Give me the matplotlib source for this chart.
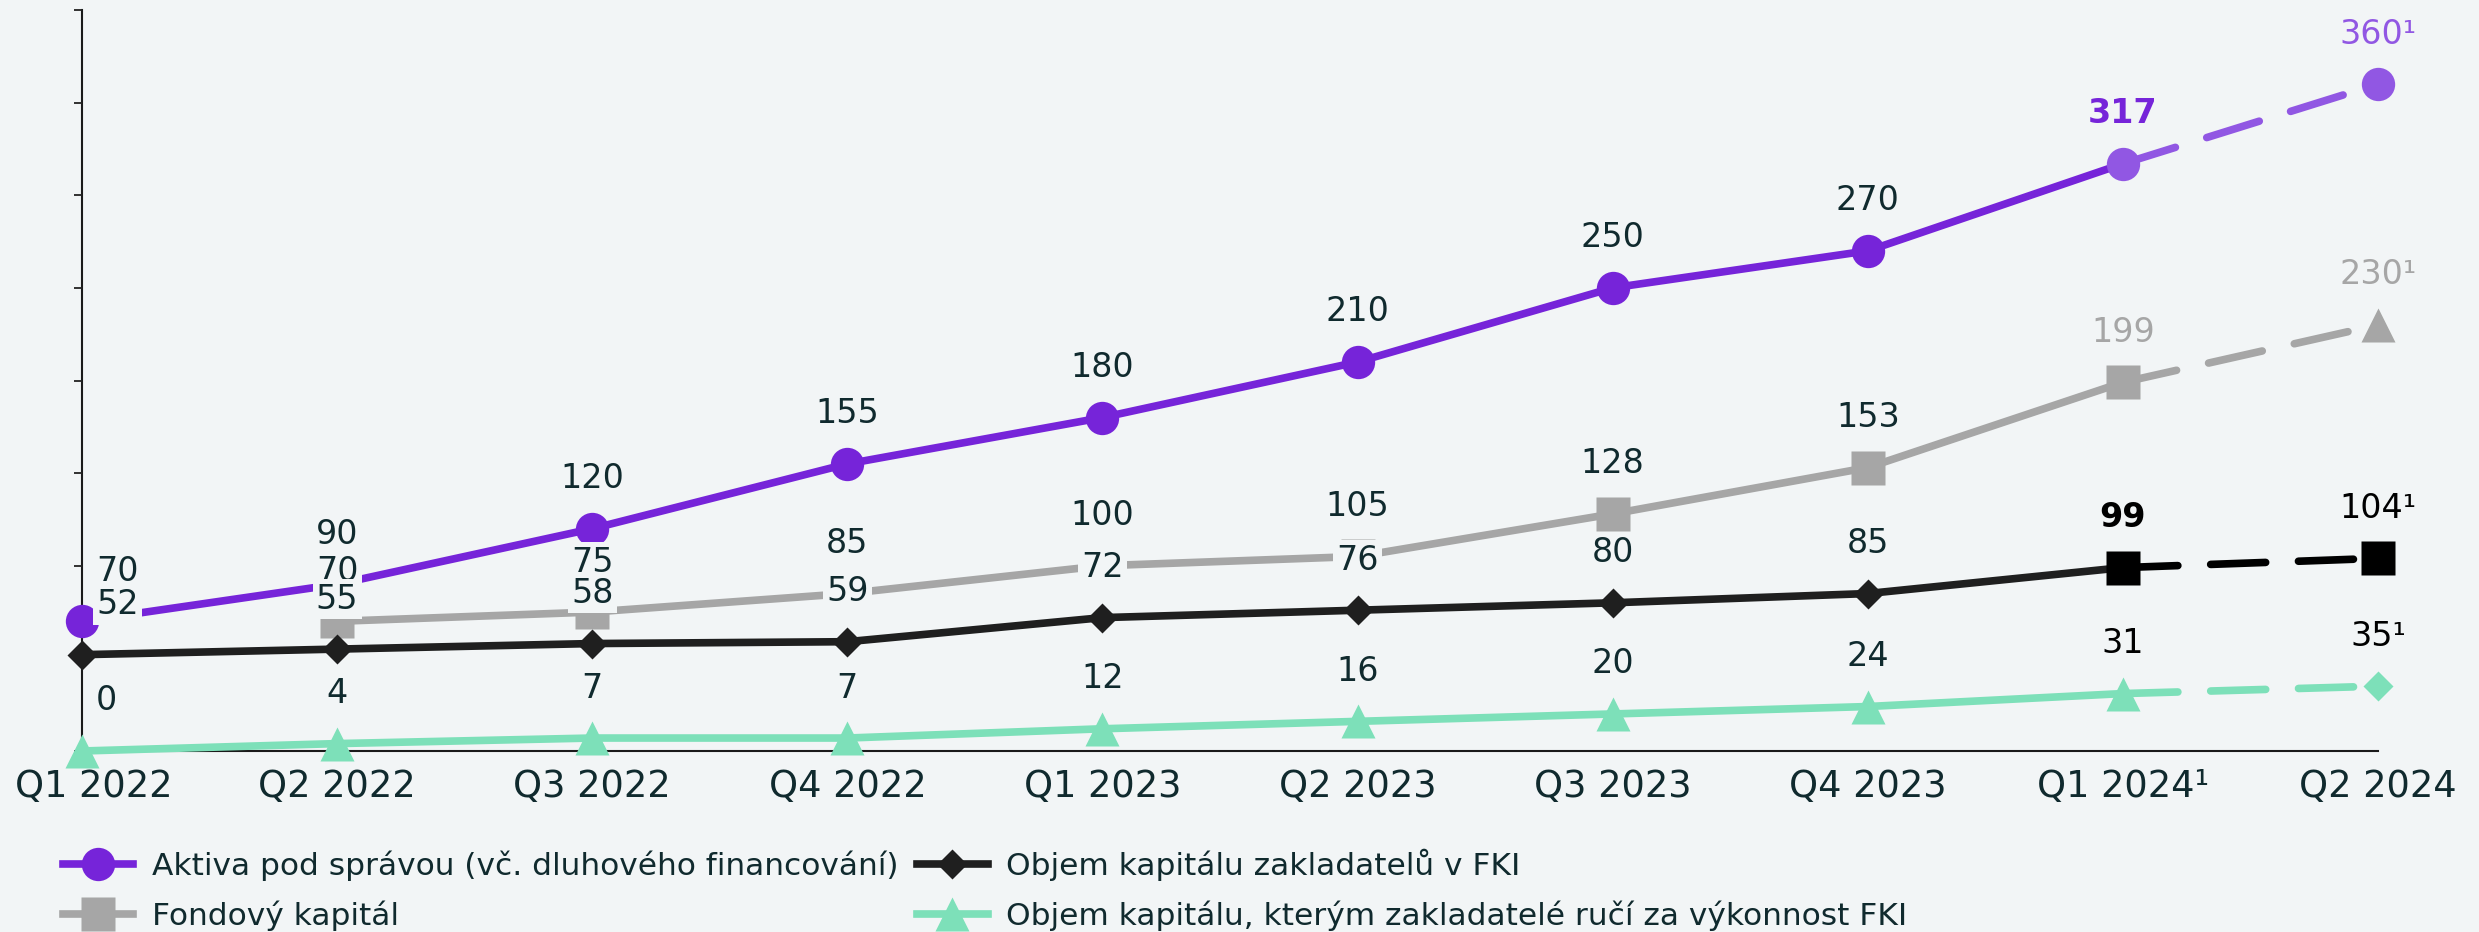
import numpy as np
import matplotlib
matplotlib.use("Agg")
import matplotlib.pyplot as plt
from matplotlib.lines import Line2D
from matplotlib.transforms import ScaledTranslation

# ---------------- data ----------------
quarters = ["Q1 2022", "Q2 2022", "Q3 2022", "Q4 2022", "Q1 2023",
            "Q2 2023", "Q3 2023", "Q4 2023", "Q1 2024¹", "Q2 2024"]
aum = [70, 90, 120, 155, 180, 210, 250, 270, 317, 360]
fund_capital = [np.nan, 70, 75, 85, 100, 105, 128, 153, 199, 230]
founders_capital = [52, 55, 58, 59, 72, 76, 80, 85, 99, 104]
guarantee_capital = [0, 4, 7, 7, 12, 16, 20, 24, 31, 35]

series_names = [
    "Aktiva pod správou (vč. dluhového financování)",
    "Fondový kapitál",
    "Objem kapitálu zakladatelů v FKI",
    "Objem kapitálu, kterým zakladatelé ručí za výkonnost FKI",
]

# ---------------- style ----------------
BG = "#F2F5F6"
TXT = "#102A2E"
PURPLE = "#7624D9"
PURPLE_L = "#9157E3"
GRAY = "#A6A6A6"
BLACK = "#1F1F1F"
BLACK_F = "#000000"
GREEN = "#7DE0B9"
LW = 5.5
MS = 24
DASH = (7.2, 4.3)

plt.rcParams["font.family"] = ["DejaVu Sans"]

fig = plt.figure(figsize=(24.79, 9.32), dpi=100)
fig.patch.set_facecolor(BG)
W, H = 2479, 932
ax = fig.add_axes([82 / W, 1 - 751 / H, (2378 - 82) / W, (751 - 10) / H])
ax.set_facecolor(BG)

x = np.arange(len(quarters))
n_act = 9  # actual points up to Q1 2024

series = [
    dict(v=aum, c=PURPLE, cf=PURPLE_L, m="o", m8="o", m9="o", c8=PURPLE_L, c9=PURPLE_L, ms=MS,
         lc8=PURPLE, lc9=PURPLE_L, w8="bold"),
    dict(v=fund_capital, c=GRAY, cf=GRAY, m="s", m8="s", m9="^", c8=GRAY, c9=GRAY, ms=MS,
         lc8=GRAY, lc9=GRAY, w8="normal"),
    dict(v=founders_capital, c=BLACK, cf=BLACK_F, m="D", m8="s", m9="s", c8=BLACK_F, c9=BLACK_F, ms=15,
         lc8=BLACK_F, lc9=BLACK_F, w8="bold"),
    dict(v=guarantee_capital, c=GREEN, cf=GREEN, m="^", m8="^", m9="D", c8=GREEN, c9=GREEN, ms=MS,
         lc8=BLACK_F, lc9=BLACK_F, w8="normal"),
]

for s in series:
    v = np.array(s["v"], dtype=float)
    ax.plot(x[:n_act], v[:n_act], color=s["c"], lw=LW, solid_capstyle="round",
            solid_joinstyle="round", zorder=2, clip_on=False)
    ax.plot(x[n_act - 1:], v[n_act - 1:], color=s["cf"], lw=LW, dashes=DASH,
            dash_capstyle="round", zorder=2, clip_on=False)
    ax.plot(x[:n_act - 1], v[:n_act - 1], ls="none", marker=s["m"], ms=s["ms"],
            color=s["c"], mec="none", zorder=3, clip_on=False)
    ms8 = s["ms"] if s["m8"] == s["m"] else MS
    ms9 = 15 if s["m9"] == "D" else MS
    ax.plot(x[n_act - 1:n_act], v[n_act - 1:n_act], ls="none", marker=s["m8"], ms=ms8,
            color=s["c8"], mec="none", zorder=3, clip_on=False)
    ax.plot(x[n_act:], v[n_act:], ls="none", marker=s["m9"], ms=ms9,
            color=s["c9"], mec="none", zorder=3, clip_on=False)

# data labels
for s in series:
    v = s["v"]
    for i, val in enumerate(v):
        if np.isnan(val):
            continue
        txt = f"{int(val)}" + ("¹" if i == len(v) - 1 else "")
        color, weight = TXT, "normal"
        if i == n_act - 1:
            color, weight = s["lc8"], s["w8"]
        elif i == n_act:
            color = s["lc9"]
        ha, dx = "center", 0
        if i == 0:
            ha, dx = "left", 14
        ax.annotate(txt, (x[i], val), xytext=(dx, 50), textcoords="offset pixels",
                    ha=ha, va="center", fontsize=24, color=color, fontweight=weight,
                    bbox=dict(boxstyle="square,pad=0.1", fc=BG, ec="none"),
                    zorder=6, annotation_clip=False)

ax.set_xlim(0, len(quarters) - 1)
ax.set_ylim(0, 400)
ax.set_xticks(x)
ax.set_xticklabels(quarters, fontsize=26.5, color=TXT)
ax.tick_params(axis="x", length=0, pad=12)
first = ax.get_xticklabels()[0]
first.set_transform(first.get_transform() + ScaledTranslation(12 / 100, 0, fig.dpi_scale_trans))
ax.set_yticks(np.arange(0, 401, 50))
ax.set_yticklabels([])
ax.tick_params(axis="y", length=6, width=1.3, color="#222222", direction="out")
for sp in ["top", "right"]:
    ax.spines[sp].set_visible(False)
for sp in ["left", "bottom"]:
    ax.spines[sp].set_color("#1A1A1A")
    ax.spines[sp].set_linewidth(1.5)
    ax.spines[sp].set_zorder(1)

handles = [
    Line2D([], [], color=PURPLE, lw=LW, marker="o", ms=MS, mec="none"),
    Line2D([], [], color=GRAY, lw=LW, marker="s", ms=MS, mec="none"),
    Line2D([], [], color=BLACK, lw=LW, marker="D", ms=15, mec="none"),
    Line2D([], [], color=GREEN, lw=LW, marker="^", ms=MS, mec="none"),
]
leg = fig.legend(handles, series_names, loc="upper left", bbox_to_anchor=(63 / W, 1 - 849 / H),
                 ncol=2, frameon=False, fontsize=22.5, handlelength=2.25, handletextpad=0.6,
                 columnspacing=0.6, labelspacing=0.6, borderaxespad=0, borderpad=0)
for t in leg.get_texts():
    t.set_color(TXT)

fig.savefig("out.png", dpi=100, facecolor=BG)
